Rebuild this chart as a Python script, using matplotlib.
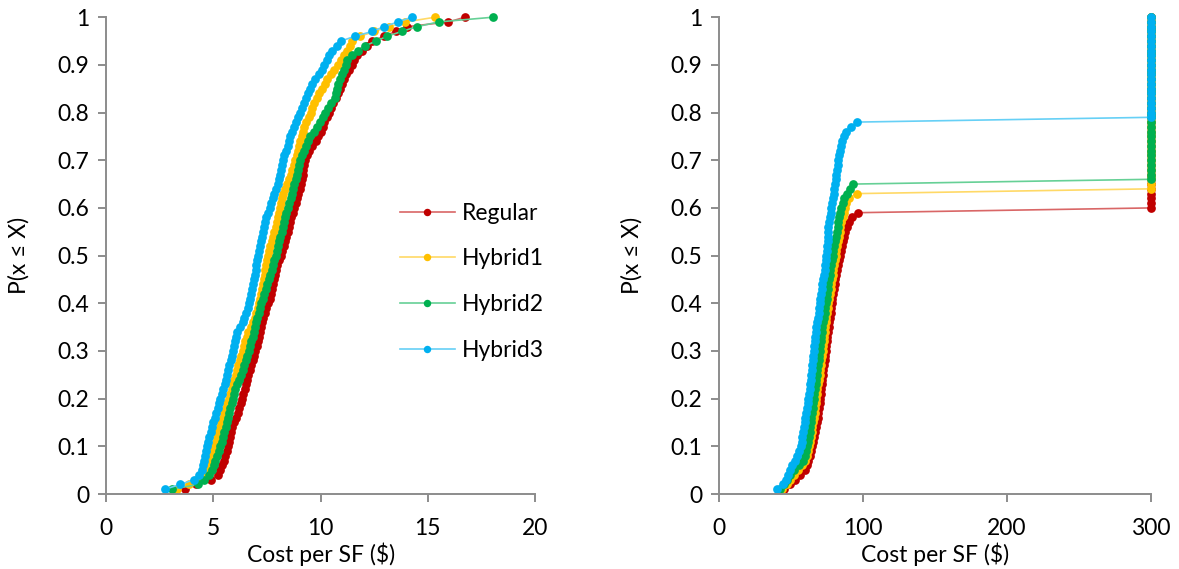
import matplotlib.pyplot as plt
import numpy as np

plt.rcParams['font.family'] = ['Lato', 'DejaVu Sans']

series_names = ['Regular', 'Hybrid1', 'Hybrid2', 'Hybrid3']
colors = ['#C00000', '#FFC000', '#00B050', '#00B0F0']
line_colors = ['#D96666', '#FFD966', '#66D096', '#66D0F6']

# sorted cost per SF samples, left chart (100 runs each)
regular_left = [
    3.68, 4.20, 4.90, 5.20, 5.32, 5.40, 5.48, 5.56, 5.63, 5.68,
    5.72, 5.77, 5.82, 5.88, 5.96, 6.05, 6.14, 6.22, 6.29, 6.35,
    6.40, 6.46, 6.52, 6.58, 6.64, 6.70, 6.76, 6.83, 6.90, 6.96,
    7.02, 7.07, 7.13, 7.18, 7.24, 7.29, 7.34, 7.41, 7.48, 7.55,
    7.62, 7.69, 7.74, 7.79, 7.84, 7.88, 7.93, 7.99, 8.07, 8.15,
    8.22, 8.28, 8.34, 8.40, 8.46, 8.51, 8.56, 8.63, 8.70, 8.77,
    8.84, 8.91, 8.97, 9.02, 9.07, 9.12, 9.16, 9.19, 9.23, 9.29,
    9.35, 9.45, 9.60, 9.78, 9.90, 10.00, 10.10, 10.18, 10.28, 10.37,
    10.48, 10.60, 10.72, 10.82, 10.92, 11.02, 11.10, 11.20, 11.32, 11.45,
    11.55, 11.68, 11.95, 12.15, 12.40, 12.95, 13.50, 14.01, 15.96, 16.73]
hybrid1_left = [
    3.30, 3.85, 4.20, 4.45, 4.62, 4.78, 4.88, 4.94, 5.00, 5.06,
    5.11, 5.17, 5.22, 5.30, 5.38, 5.45, 5.52, 5.59, 5.66, 5.72,
    5.78, 5.85, 5.91, 5.98, 6.04, 6.11, 6.17, 6.23, 6.30, 6.37,
    6.44, 6.50, 6.57, 6.64, 6.74, 6.84, 6.93, 7.01, 7.07, 7.12,
    7.17, 7.22, 7.27, 7.31, 7.35, 7.39, 7.43, 7.47, 7.51, 7.55,
    7.60, 7.66, 7.72, 7.79, 7.85, 7.90, 7.95, 8.00, 8.06, 8.11,
    8.15, 8.18, 8.23, 8.32, 8.42, 8.52, 8.60, 8.68, 8.75, 8.82,
    8.88, 8.94, 9.00, 9.06, 9.12, 9.17, 9.22, 9.33, 9.45, 9.55,
    9.62, 9.70, 9.82, 9.95, 10.08, 10.20, 10.32, 10.48, 10.62, 10.80,
    10.95, 11.08, 11.22, 11.35, 11.45, 11.85, 12.50, 13.20, 13.95, 15.35]
hybrid2_left = [
    3.06, 4.30, 4.55, 4.80, 4.92, 5.02, 5.10, 5.17, 5.25, 5.32,
    5.40, 5.47, 5.52, 5.58, 5.63, 5.68, 5.74, 5.80, 5.86, 5.92,
    5.98, 6.03, 6.12, 6.20, 6.28, 6.37, 6.45, 6.51, 6.58, 6.65,
    6.72, 6.77, 6.83, 6.89, 6.95, 7.00, 7.06, 7.12, 7.18, 7.24,
    7.30, 7.37, 7.44, 7.51, 7.58, 7.65, 7.72, 7.78, 7.84, 7.90,
    7.96, 8.02, 8.07, 8.13, 8.18, 8.23, 8.28, 8.33, 8.39, 8.46,
    8.53, 8.60, 8.66, 8.72, 8.78, 8.84, 8.89, 8.94, 8.99, 9.04,
    9.13, 9.22, 9.32, 9.42, 9.52, 9.68, 9.85, 9.98, 10.10, 10.22,
    10.35, 10.50, 10.65, 10.72, 10.78, 10.82, 10.90, 11.00, 11.10, 11.20,
    11.25, 11.45, 11.75, 12.07, 12.60, 13.10, 13.78, 14.48, 15.50, 18.05]
hybrid3_left = [
    2.75, 3.45, 4.10, 4.35, 4.46, 4.52, 4.57, 4.62, 4.66, 4.69,
    4.76, 4.82, 4.88, 4.94, 5.00, 5.07, 5.13, 5.20, 5.27, 5.33,
    5.39, 5.46, 5.53, 5.59, 5.64, 5.69, 5.75, 5.81, 5.86, 5.92,
    5.96, 6.00, 6.05, 6.12, 6.25, 6.38, 6.45, 6.53, 6.61, 6.66,
    6.70, 6.75, 6.80, 6.85, 6.89, 6.93, 6.97, 7.00, 7.04, 7.07,
    7.12, 7.17, 7.22, 7.26, 7.31, 7.35, 7.40, 7.48, 7.57, 7.64,
    7.70, 7.76, 7.84, 7.92, 8.00, 8.05, 8.09, 8.14, 8.19, 8.25,
    8.31, 8.38, 8.46, 8.53, 8.58, 8.67, 8.76, 8.86, 8.95, 9.05,
    9.15, 9.25, 9.33, 9.42, 9.52, 9.59, 9.75, 9.95, 10.05, 10.17,
    10.28, 10.40, 10.55, 10.75, 10.95, 11.60, 12.40, 12.95, 13.60, 14.25]

# right chart: finite costs, the rest of the 100 runs sit at the 300 cap
regular_right = [
    45.0, 49.0, 52.5, 56.5, 59.8, 61.0, 62.0, 63.0, 64.0, 64.8,
    65.5, 66.1, 66.7, 67.3, 67.9, 68.5, 69.0, 69.5, 69.9, 70.3,
    70.7, 71.1, 71.5, 71.9, 72.2, 72.6, 72.9, 73.3, 73.7, 74.1,
    74.5, 74.9, 75.3, 75.7, 76.1, 76.5, 77.1, 77.5, 77.9, 78.3,
    78.8, 79.3, 79.8, 80.3, 80.8, 81.3, 81.8, 82.5, 83.2, 83.9,
    84.6, 85.3, 86.0, 86.8, 87.7, 88.7, 90.0, 92.2, 96.8]
hybrid1_right = [
    44.0, 47.0, 49.5, 52.0, 55.0, 57.5, 59.5, 60.8, 61.8, 62.6,
    63.3, 63.9, 64.4, 64.9, 65.4, 65.9, 66.4, 66.8, 67.2, 67.6,
    68.0, 68.4, 68.9, 69.4, 69.9, 70.3, 70.8, 71.2, 71.6, 72.0,
    72.4, 72.8, 73.2, 73.5, 73.8, 74.2, 74.6, 75.0, 75.5, 76.0,
    76.5, 77.0, 77.5, 78.0, 78.5, 79.0, 79.5, 80.0, 80.5, 81.0,
    81.5, 82.0, 82.6, 83.2, 83.8, 84.4, 85.0, 85.8, 86.6, 87.5,
    88.5, 90.0, 95.7]
hybrid2_right = [
    42.4, 45.5, 47.5, 49.5, 52.0, 55.5, 58.6, 59.5, 60.3, 61.0,
    61.7, 62.4, 63.0, 63.4, 63.8, 64.2, 64.6, 65.0, 65.4, 65.8,
    66.2, 66.7, 67.1, 67.5, 67.9, 68.3, 68.7, 69.2, 69.6, 70.0,
    70.4, 70.7, 71.0, 71.4, 71.9, 72.4, 72.9, 73.4, 73.9, 74.3,
    74.8, 75.2, 75.6, 76.0, 76.4, 76.8, 77.2, 77.6, 78.3, 78.9,
    79.5, 80.1, 80.7, 81.2, 81.8, 82.4, 83.0, 83.6, 84.2, 85.0,
    86.0, 87.0, 88.7, 91.0, 93.3]
hybrid3_right = [
    40.1, 44.7, 46.5, 48.0, 49.5, 51.0, 52.5, 54.5, 55.8, 56.8,
    57.5, 58.0, 58.5, 59.0, 59.5, 60.0, 60.5, 61.0, 61.6, 62.1,
    62.6, 63.0, 63.3, 63.6, 64.0, 64.4, 64.8, 65.1, 65.5, 65.8,
    66.1, 66.4, 66.7, 67.2, 67.7, 68.2, 68.7, 69.2, 69.6, 70.0,
    70.3, 70.7, 71.3, 71.8, 72.4, 72.9, 73.4, 73.8, 74.1, 74.5,
    74.8, 75.1, 75.4, 75.6, 75.8, 76.0, 76.5, 77.0, 77.6, 78.1,
    78.6, 79.1, 79.6, 80.1, 80.6, 81.1, 81.6, 82.1, 82.6, 83.0,
    83.6, 84.3, 85.0, 85.7, 86.6, 88.5, 91.5, 95.7]
n_runs = 100
cap_value = 300

left_data = [regular_left, hybrid1_left, hybrid2_left, hybrid3_left]
right_data = [regular_right, hybrid1_right, hybrid2_right, hybrid3_right]

y_ticks = [0, 0.1, 0.2, 0.3, 0.4, 0.5, 0.6, 0.7, 0.8, 0.9, 1]
y_labels = ['0', '0.1', '0.2', '0.3', '0.4', '0.5', '0.6', '0.7', '0.8', '0.9', '1']

fig = plt.figure(figsize=(11.79, 5.69), dpi=100)
ax1 = fig.add_axes([0.0899, 0.1318, 0.364, 0.838])
ax2 = fig.add_axes([0.6098, 0.1318, 0.3664, 0.838])

grey = '#8C8C8C'
fs = 16.5


def style(ax, xticks, xmax):
    ax.set_xlim(0, xmax)
    ax.set_ylim(0, 1)
    ax.set_xticks(xticks)
    ax.set_yticks(y_ticks)
    ax.set_yticklabels(y_labels)
    for s in ['top', 'right']:
        ax.spines[s].set_visible(False)
    for s in ['left', 'bottom']:
        ax.spines[s].set_color(grey)
        ax.spines[s].set_linewidth(1.4)
    ax.tick_params(colors=grey, labelcolor='black', labelsize=fs, width=1.4,
                   length=6, direction='out')
    ax.tick_params(axis='x', pad=11)
    ax.tick_params(axis='y', pad=6)
    ax.set_xlabel('Cost per SF ($)', fontsize=fs, labelpad=3)
    ax.set_ylabel('P(x ≤ X)', fontsize=fs, labelpad=20)


for i in range(4):
    xs = np.array(left_data[i])
    ps = np.arange(1, len(xs) + 1) / len(xs)
    ax1.plot(xs, ps, color=line_colors[i], lw=1.2, marker='o', ms=6.3,
             mfc=colors[i], mec=colors[i], mew=0, label=series_names[i], clip_on=False)

    xr = np.array(right_data[i] + [cap_value] * (n_runs - len(right_data[i])))
    pr = np.arange(1, n_runs + 1) / n_runs
    ax2.plot(xr, pr, color=line_colors[i], lw=1.2, marker='o', ms=6.3,
             mfc=colors[i], mec=colors[i], mew=0, clip_on=False)

style(ax1, [0, 5, 10, 15, 20], 20)
style(ax2, [0, 100, 200, 300], 300)

ax1.legend(loc='center left', bbox_to_anchor=(0.685, 0.445), frameon=False,
           fontsize=fs, handlelength=2.4, handletextpad=0.3, labelspacing=1.08,
           borderpad=0, borderaxespad=0, markerscale=0.85)

fig.savefig('out.png', dpi=100)
